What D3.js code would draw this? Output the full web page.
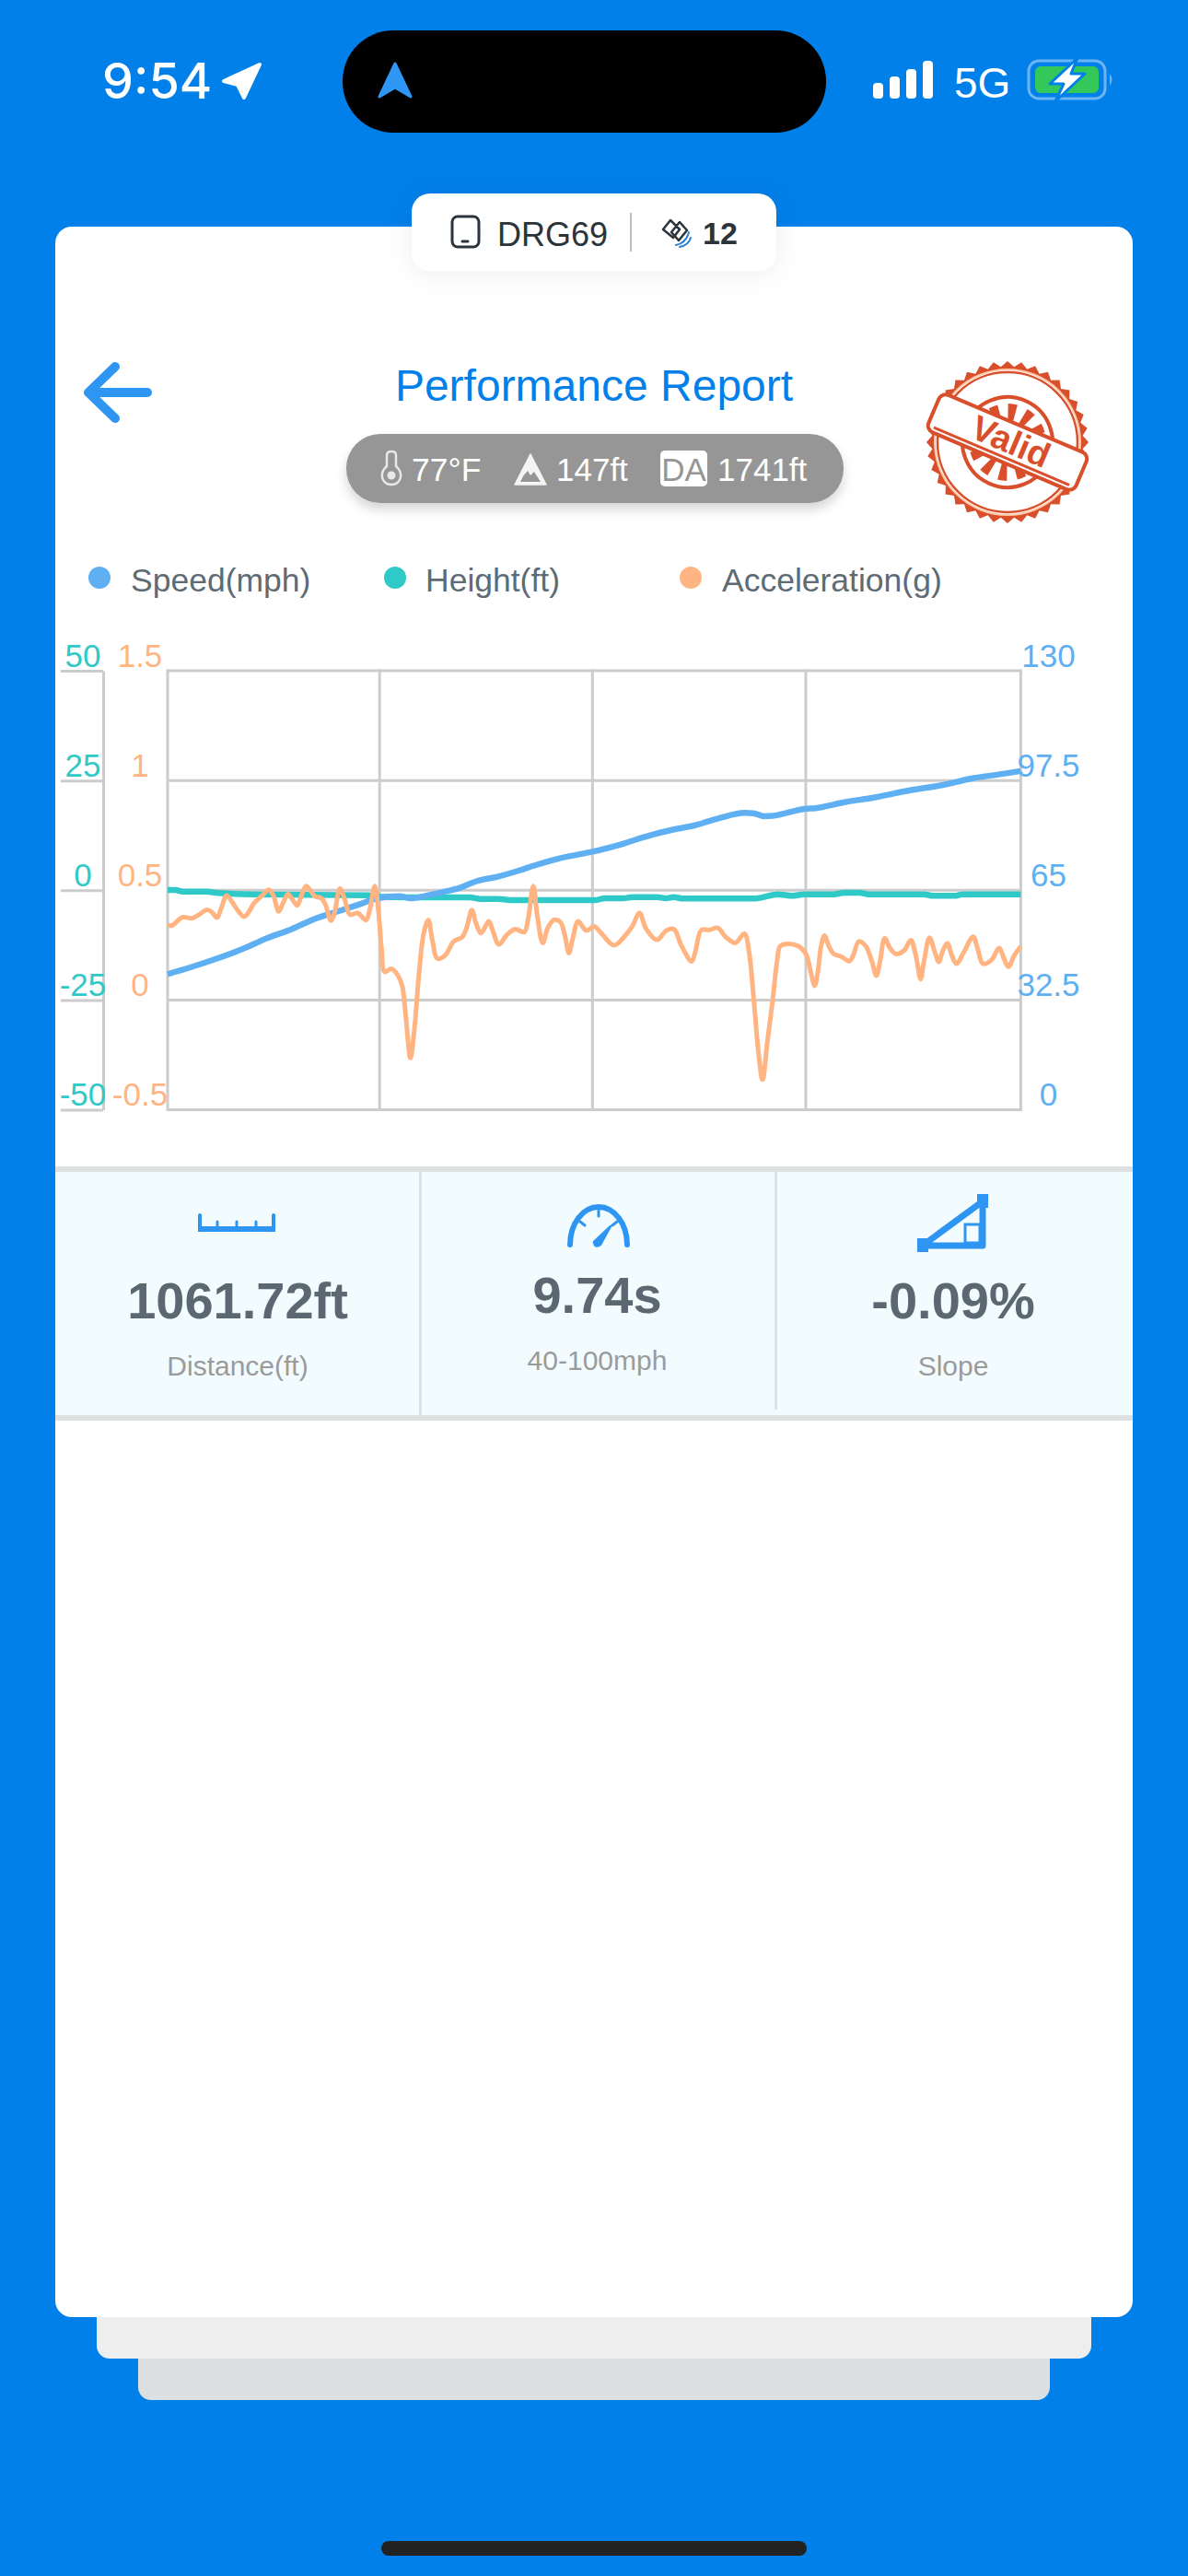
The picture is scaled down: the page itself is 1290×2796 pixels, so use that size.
<!DOCTYPE html>
<html>
<head>
<meta charset="utf-8">
<script src="https://cdn.jsdelivr.net/npm/d3@7"></script>
<style>
  html, body { margin: 0; padding: 0; background: #0180EA; }
  svg { display: block; }
  text { font-family: "Liberation Sans", Arial, sans-serif; }
</style>
</head>
<body>
<div id="chart"></div>
<script>
// x is percent of the run, grid splits it in 4
const speedX = [0, 2.66, 5.9, 8.78, 11.66, 14.54, 17.42, 20.3, 22.45, 24.6, 27.13, 28.57, 30, 32.17, 34.33, 36.13, 38.65, 41.17, 42.96, 45.84, 49.44, 53.57, 55.64, 59.35, 61.6, 64.72, 67.6, 68.65, 69.9, 70.9, 74.64, 75.9, 79.18, 82.9, 87.03, 90.75, 94.46, 97.77, 100];
const speedMph = [40.15, 42.15, 44.88, 47.6, 50.8, 53.5, 56.7, 59, 60.8, 62.6, 63.25, 62.6, 63.2, 64.4, 65.8, 67.6, 69, 70.8, 72.3, 74.4, 76.2, 78.9, 80.6, 83, 84.1, 86.4, 87.9, 87.8, 86.9, 87, 89.1, 89.3, 91, 92.5, 94.6, 96.1, 98.2, 99.4, 100.3];

const heightX = [0, 0.9, 1.77, 4.64, 5.9, 10.2, 23.5, 25, 31, 35.4, 36.67, 38.8, 40.1, 50.2, 51.2, 53.4, 54.5, 57.36, 58.4, 59.3, 60.4, 68.87, 71.57, 73.2, 74.6, 78.04, 79.3, 81.1, 82.2, 88.66, 89.7, 92.25, 93.15, 100];
const heightFt = [0.05, 0.05, -0.3, -0.3, -0.65, -0.93, -1.14, -1.5, -1.63, -1.63, -1.98, -1.98, -2.25, -2.25, -1.84, -1.84, -1.56, -1.56, -1.84, -1.56, -1.9, -1.9, -0.93, -1.28, -0.93, -0.93, -0.58, -0.58, -0.93, -0.93, -1.28, -1.28, -0.93, -0.93];

const accelX = [0, 0.5, 1.04, 1.66, 2.3, 2.84, 3.56, 4.64, 5.18, 5.79, 6.26, 6.91, 7.52, 8.24, 8.96, 9.5, 10.15, 11.12, 11.84, 12.38, 13.03, 13.53, 14.11, 14.54, 15.19, 15.69, 16.23, 16.8, 17.24, 18.03, 18.5, 19.14, 19.58, 20.19, 20.73, 21.37, 22.27, 23.25, 23.71, 24.29, 24.69, 25.08, 25.44, 26.23, 26.95, 27.49, 27.92, 28.46, 28.93, 29.47, 30.01, 30.55,
  31.02, 31.63, 32.53, 33.54, 34.51, 35.05, 35.66, 36.13, 36.74, 37.64, 38.11, 38.83, 39.73, 40.73, 41.81, 42.24, 42.86, 43.32, 43.97, 44.58, 45.3, 46.02, 46.56, 47.03, 47.53, 48.11, 49.08, 49.98, 50.88, 52.32, 53.58, 54.48, 55.31, 56.1, 57.36, 58.44, 59.34, 60.24, 61.42,
  61.85, 62.57, 63.47, 64.48, 65.45, 66.53, 67.61, 68.15, 68.69, 69.23, 69.73, 70.31, 70.95, 71.39, 71.82, 72.82, 73.9, 74.8, 75.42, 75.85, 76.24, 76.6, 77, 77.5, 78.04, 78.94, 79.91, 80.38, 81.03, 81.82, 82.54, 83.08, 83.51, 84.05, 84.63, 85.35, 86.32, 87.11, 87.69, 88.26, 88.66, 89.31, 89.92, 90.39, 90.82, 91.39, 91.9, 92.47, 93.34, 94.42, 94.96, 95.57, 96.58, 97.47, 98.01, 98.55, 99.27, 100];
const accelG = [0.342, 0.339, 0.355, 0.376, 0.375, 0.372, 0.386, 0.411, 0.4, 0.375, 0.414, 0.476, 0.449, 0.407, 0.379, 0.4, 0.442, 0.477, 0.502, 0.477, 0.403, 0.442, 0.482, 0.463, 0.431, 0.477, 0.519, 0.496, 0.473, 0.463, 0.435, 0.361, 0.4, 0.507, 0.463, 0.389, 0.396, 0.364, 0.414, 0.519, 0.414, 0.232, 0.128, 0.142, 0.114, 0.065, -0.075, -0.264, -0.131, 0.121, 0.302, 0.365,
  0.274, 0.188, 0.204, 0.267, 0.286, 0.33, 0.41, 0.351, 0.305, 0.358, 0.316, 0.253, 0.295, 0.323, 0.309, 0.365, 0.519, 0.386, 0.26, 0.33, 0.365, 0.356, 0.295, 0.214, 0.288, 0.358, 0.316, 0.335, 0.302, 0.249, 0.291, 0.337, 0.396, 0.323, 0.274, 0.316, 0.323, 0.246, 0.176,
  0.219, 0.319, 0.319, 0.328, 0.286, 0.26, 0.302, 0.219, 0.009, -0.229, -0.363, -0.187, 0.009, 0.163, 0.246, 0.256, 0.246, 0.211, 0.121, 0.065, 0.135, 0.246, 0.293, 0.246, 0.211, 0.198, 0.177, 0.205, 0.267, 0.246, 0.177, 0.111, 0.177, 0.281, 0.239, 0.21, 0.225, 0.272, 0.205, 0.095, 0.177, 0.284, 0.219, 0.174, 0.219, 0.258, 0.205, 0.165, 0.219, 0.288, 0.232, 0.165, 0.183, 0.237, 0.191, 0.151, 0.205, 0.244];

const gridX = [0, 24.85, 49.8, 74.8, 100];
const heightTicks = [-50, -25, 0, 25, 50];
const accelTicks = [-0.5, 0, 0.5, 1, 1.5];
const speedTicks = [0, 32.5, 65, 97.5, 130];

const legendNames = ["Speed(mph)", "Height(ft)", "Acceleration(g)"];
const statValues = ["1061.72ft", "9.74s", "-0.09%"];
const statLabels = ["Distance(ft)", "40-100mph", "Slope"];
const conditions = ["77°F", "147ft", "1741ft"];

const BLUE = "#5FB0F2", TEAL = "#2FC9C8", ORANGE = "#FFB482", GRID = "#CCCCCC";
const ICON = "#2E96F2", STAMP = "#D94F2B";

const width = 1290, height = 2796;
const svg = d3.select("#chart").append("svg").attr("width", width).attr("height", height);

const defs = svg.append("defs");
function shadow(id, dy, blur, op) {
  defs.append("filter").attr("id", id)
    .attr("x", "-30%").attr("y", "-60%").attr("width", "160%").attr("height", "240%")
    .append("feDropShadow")
    .attr("dx", 0).attr("dy", dy).attr("stdDeviation", blur)
    .attr("flood-color", "#000").attr("flood-opacity", op);
}
shadow("chipShadow", 2, 14, 0.07);
shadow("pillShadow", 7, 6, 0.16);

function rect(p, x, y, w, h, r, fill) {
  return p.append("rect").attr("x", x).attr("y", y).attr("width", w).attr("height", h)
    .attr("rx", r).attr("fill", fill);
}
function label(p, x, y, str, size, fill, anchor, weight) {
  return p.append("text").attr("x", x).attr("y", y).text(str)
    .attr("font-size", size).attr("fill", fill)
    .attr("text-anchor", anchor || "start").attr("font-weight", weight || 400);
}
function path(p, d, fill, stroke, sw) {
  return p.append("path").attr("d", d).attr("fill", fill || "none")
    .attr("stroke", stroke || "none").attr("stroke-width", sw || 0)
    .attr("stroke-linecap", "round").attr("stroke-linejoin", "round");
}

// page background and stacked cards
rect(svg, 0, 0, width, height, 0, "#0180EA");
rect(svg, 150, 2500, 990, 105, 14, "#DDE0E0");
rect(svg, 105, 2480, 1080, 80, 14, "#EEEEEE");
rect(svg, 60, 246, 1170, 2269, 18, "#FFFFFF");

// status bar
const status = svg.append("g");
label(status, 111, 107, "9:54", 54, "#fff", "start", 500).style("font-family", "Inter");
path(status, "M282 70 L243 88 L258 92 L265 106 Z", "#fff", "#fff", 4);
rect(status, 372, 33, 525, 111, 55, "#000");
path(status, "M429 69 L446 105 L429 95 L412 105 Z", "#2E96F5", "#2E96F5", 3);
[[948, 17], [966, 24], [984, 32], [1002, 41]].forEach(b => rect(status, b[0], 107 - b[1], 11, b[1], 4, "#fff"));
label(status, 1036, 106, "5G", 46, "#fff");
rect(status, 1117, 66, 83, 41, 11, "none").attr("stroke", "#6DB4F3").attr("stroke-width", 3);
rect(status, 1124, 72, 69, 29, 6, "#34C759");
path(status, "M1205 80 Q1210 86 1205 93 Z", "#6DB4F3");
path(status, "M1170 63 L1140 91 L1155 91 L1146 110 L1178 80 L1163 80 Z", "#fff", "#0180EA", 3);

// device chip on the card edge
const chip = svg.append("g");
rect(chip, 447, 210, 396, 84, 20, "#fff").attr("filter", "url(#chipShadow)");
rect(chip, 491, 235, 29, 33, 6, "none").attr("stroke", "#2B333B").attr("stroke-width", 3);
path(chip, "M502 262 L508 262", null, "#2B333B", 3);
label(chip, 540, 267, "DRG69", 36, "#2B333B");
rect(chip, 684, 231, 2, 42, 0, "#BDBDBD");
path(chip, "M728 239 L738 249 L731 258 L720 249 Z M738 241 L746 250 L737 261 L729 252 Z", "#fff", "#2B333B", 2.5);
path(chip, "M734 266 Q745 264 748 252 M738 268 Q748 266 750 258", null, "#2A7FD0", 2);
label(chip, 763, 265, "12", 34, "#2B333B", "start", 700);

// header
path(svg, "M160 426 L98 426 M125 398 L96 426 L125 454", null, ICON, 10);
label(svg, 645, 435, "Performance Report", 48, "#0180EA", "middle");

const pill = svg.append("g");
rect(pill, 376, 471, 540, 75, 37, "#969696").attr("filter", "url(#pillShadow)");
path(pill, "M420 506 L420 494 Q420 490 425 490 Q430 490 430 494 L430 506 Q436 511 435 518 Q433 526 425 526 Q417 526 415 518 Q414 511 420 506 Z", "none", "#E8E8E8", 2.5);
pill.append("circle").attr("cx", 425).attr("cy", 516).attr("r", 4.5).attr("fill", "#E8E8E8");
path(pill, "M576 493 L593 526 L559 526 Z", "#F4F4F4", "#F4F4F4", 1.5);
path(pill, "M568 517 L573 511 L576 516 L580 512 L587 523 L565 523 Z", "#969696");
rect(pill, 717, 489, 51, 39, 5, "#fff");
label(pill, 742.5, 522, "DA", 35, "#969696", "middle");
label(pill, 447, 522, conditions[0], 35.5, "#fff");
label(pill, 604, 522, conditions[1], 35, "#fff");
label(pill, 779, 522, conditions[2], 35, "#fff");

// stamp
const stamp = svg.append("g").attr("transform", "translate(1094,480)");
const teeth = d3.range(72).map(i => [i * Math.PI / 36, i % 2 ? 82 : 88]);
path(stamp, d3.lineRadial().curve(d3.curveLinearClosed)(teeth), STAMP);
stamp.append("circle").attr("r", 79).attr("fill", "#fff").attr("stroke", "#FFC9A8").attr("stroke-width", 2);
stamp.append("circle").attr("r", 76).attr("fill", "#fff").attr("stroke", STAMP).attr("stroke-width", 2.5);
const stampTilt = stamp.append("g").attr("transform", "rotate(23)");
stampTilt.append("circle").attr("r", 49).attr("fill", "#fff").attr("stroke", STAMP).attr("stroke-width", 4);
d3.range(0, 360, 30).forEach(a => {
  path(stampTilt, d3.arc().innerRadius(14).outerRadius(42)
    .startAngle((a + 15 - 7) * Math.PI / 180).endAngle((a + 15 + 7) * Math.PI / 180)(), STAMP);
});
rect(stampTilt, -87, -22, 174, 44, 8, "#fff").attr("stroke", STAMP).attr("stroke-width", 4);
rect(stampTilt, -80, 15, 160, 3, 1, STAMP);
label(stampTilt, 3, 11, "Valid", 38, STAMP, "middle", 700);

// legend
const legendDot = [108, 429, 750], legendText = [142, 462, 784], legendColors = [BLUE, TEAL, ORANGE];
legendNames.forEach((name, i) => {
  svg.append("circle").attr("cx", legendDot[i]).attr("cy", 627).attr("r", 12).attr("fill", legendColors[i]);
  label(svg, legendText[i], 642, name, 35.5, "#5E6B75");
});

// chart
const x = d3.scaleLinear().domain([0, 100]).range([182, 1108.4]);
const yRange = [1204.5, 728];
const ySpeed = d3.scaleLinear().domain([0, 130]).range(yRange);
const yHeight = d3.scaleLinear().domain([-50, 50]).range(yRange);
const yAccel = d3.scaleLinear().domain([-0.5, 1.5]).range(yRange);

const chart = svg.append("g");
chart.selectAll("line.gx").data(gridX).join("line").attr("class", "gx")
  .attr("x1", d => x(d)).attr("x2", d => x(d)).attr("y1", yRange[1] - 1.5).attr("y2", yRange[0] + 1.5)
  .attr("stroke", GRID).attr("stroke-width", 3);
chart.selectAll("line.gy").data(heightTicks).join("line").attr("class", "gy")
  .attr("x1", x(0)).attr("x2", x(100)).attr("y1", d => yHeight(d)).attr("y2", d => yHeight(d))
  .attr("stroke", GRID).attr("stroke-width", 3);

function styleAxis(g, color, labelX, showLine) {
  g.select(".domain").attr("stroke", showLine ? GRID : "none").attr("stroke-width", 3);
  g.selectAll(".tick line").attr("stroke", showLine ? GRID : "none").attr("stroke-width", 3);
  g.selectAll(".tick text").attr("x", labelX).attr("y", -5).attr("dy", 0)
    .attr("text-anchor", "middle").attr("fill", color).attr("font-size", 35)
    .style("font-family", '"Liberation Sans", Arial, sans-serif');
}
chart.append("g").attr("transform", "translate(112,0)")
  .call(d3.axisLeft(yHeight).tickValues(heightTicks).tickSize(46).tickSizeOuter(0).tickFormat(d => String(d)))
  .call(g => styleAxis(g, TEAL, -22, true));
chart.append("g").attr("transform", "translate(152,0)")
  .call(d3.axisLeft(yAccel).tickValues(accelTicks).tickSize(0).tickFormat(d => String(d)))
  .call(g => styleAxis(g, ORANGE, 0, false));
chart.append("g").attr("transform", "translate(1138.5,0)")
  .call(d3.axisRight(ySpeed).tickValues(speedTicks).tickSize(0).tickFormat(d => String(d)))
  .call(g => styleAxis(g, BLUE, 0, false));

function drawSeries(xs, ys, yScale, color, sw, curve) {
  const line = d3.line().x(d => x(d[0])).y(d => yScale(d[1])).curve(curve);
  chart.append("path").datum(d3.zip(xs, ys)).attr("d", line)
    .attr("fill", "none").attr("stroke", color).attr("stroke-width", sw)
    .attr("stroke-linejoin", "round");
}
drawSeries(heightX, heightFt, yHeight, TEAL, 6.5, d3.curveMonotoneX);
drawSeries(speedX, speedMph, ySpeed, BLUE, 6.5, d3.curveMonotoneX);
drawSeries(accelX, accelG, yAccel, ORANGE, 5, d3.curveCatmullRom.alpha(0.5));

// stats panel
const panel = svg.append("g");
rect(panel, 60, 1272, 1170, 264, 0, "#F2FBFD");
rect(panel, 60, 1266, 1170, 6, 0, "#DDE1E2");
rect(panel, 60, 1536, 1170, 6, 0, "#DDE1E2");
rect(panel, 455, 1272, 3, 268, 0, "#DDE1E2");
rect(panel, 841, 1272, 3, 258, 0, "#DDE1E2");

const statX = [258, 648.5, 1035], statBase = [1431, 1425, 1431], statSub = [1493, 1487, 1493];
statValues.forEach((v, i) => {
  label(panel, statX[i], statBase[i], v, 56, "#5B6872", "middle", 700);
  label(panel, statX[i], statSub[i], statLabels[i], 30, "#9B9B9B", "middle");
});

// ruler
rect(panel, 215, 1331, 84, 6, 0, ICON);
path(panel, "M217 1319 L217 1333 M297 1319 L297 1333", null, ICON, 4);
path(panel, "M236 1326 L236 1333 M257 1326 L257 1333 M278 1326 L278 1333", null, ICON, 3);
// gauge
path(panel, "M619 1351 A31 41 0 1 1 681 1351", null, ICON, 6);
path(panel, "M663 1331 L652 1351 Q646 1355 645 1348 Z", ICON, ICON, 2.5);
path(panel, "M630 1326 L635 1330 M650 1314 L650 1320 M670 1326 L665 1330", null, ICON, 3);
// slope
path(panel, "M1003 1351 L1067 1304 L1067 1352 L1003 1352", null, ICON, 7);
rect(panel, 996, 1344, 12, 15, 0, ICON);
rect(panel, 1061, 1296, 12, 15, 0, ICON);
rect(panel, 1048, 1329, 16, 20, 0, "none").attr("stroke", ICON).attr("stroke-width", 3);

// home indicator
rect(svg, 414, 2758, 462, 16, 8, "#222222");
</script>
</body>
</html>
